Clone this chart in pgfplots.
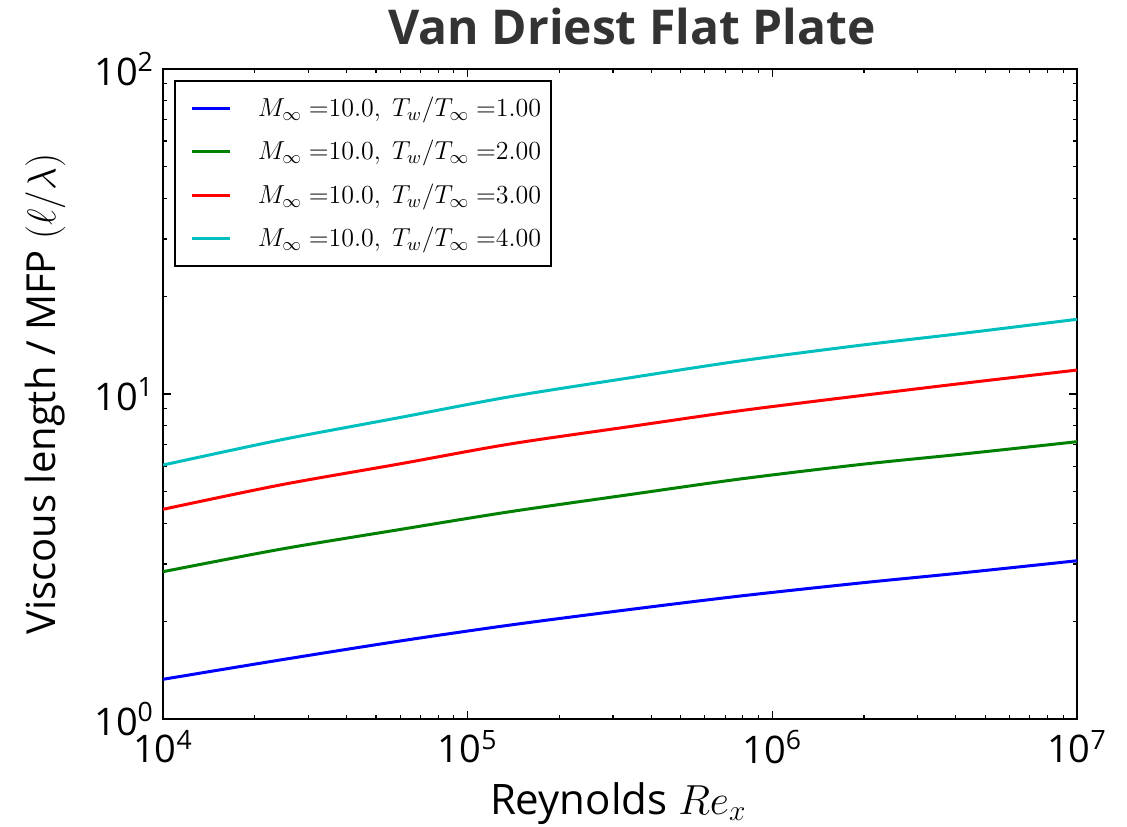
\RequirePackage{fix-cm}
\documentclass[border=0pt]{standalone}
\usepackage{pgfplots}
\pgfplotsset{compat=1.18}
\usepackage{fontspec}
\setmainfont{Open Sans}
\setsansfont{Open Sans}
\definecolor{mplgreen}{rgb}{0,0.5,0}
\definecolor{mplcyan}{rgb}{0,0.75,0.75}
\begin{document}
\begin{tikzpicture}
\path[use as bounding box] (0pt,0pt) rectangle (563.5pt,413pt);
\begin{axis}[
  at={(81.5pt,53.5pt)}, anchor=south west,
  width=457pt, height=325pt, scale only axis,
  xmode=log, ymode=log,
  xmin=1e4, xmax=1e7, ymin=1, ymax=100,
  xtick={1e4,1e5,1e6,1e7},
  xticklabels={10\textsuperscript{4},10\textsuperscript{5},10\textsuperscript{6},10\textsuperscript{7}},
  ytick={1,10,100},
  yticklabels={10\textsuperscript{0},10\textsuperscript{1},10\textsuperscript{2}},
  ticklabel style={font=\fontsize{19}{22}\selectfont},
  xticklabel style={yshift=-2pt},
  yticklabel style={xshift=-1pt},
  major tick length=4pt, minor tick length=2pt,
  tick style={black, line width=0.6pt},
  axis line style={line width=0.8pt},
  every axis y label/.style={at={(axis description cs:-0.129,0.5)}, anchor=center, rotate=90},
  every axis x label/.style={at={(axis description cs:0.498,-0.13)}, anchor=center},
  ylabel={\fontsize{20}{24}\selectfont Viscous length / MFP $(\ell/\lambda)$},
  xlabel={\fontsize{21}{25}\selectfont Reynolds $Re_x$},
  legend style={at={(axis description cs:0.012,0.983)}, anchor=north west,
    draw=black, line width=0.8pt, font=\fontsize{13}{16}\selectfont,
    row sep=6.5pt, column sep=13pt, inner xsep=5pt, inner ysep=6pt,
    nodes={inner xsep=0pt}},
  legend cell align=left,
  legend image code/.code={\path (0pt,0pt); \draw[#1] (3pt,0pt) -- (22pt,0pt);},
  every axis plot/.append style={line width=1.5pt},
]
\addplot[blue, smooth] coordinates {
(1e4,1.325) (2.421e4,1.519) (5.998e4,1.738) (1.377e5,1.946) (3.412e5,2.173)
(7.834e5,2.390) (1.941e6,2.621) (4.236e6,2.819) (1e7,3.069)};
\addlegendentry{$M_{\infty}\ {=}10.0,\ T_w/T_{\infty}\ {=}1.00$}
\addplot[mplgreen, smooth] coordinates {
(1e4,2.840) (2.421e4,3.328) (5.998e4,3.830) (1.377e5,4.344) (3.412e5,4.906)
(7.834e5,5.476) (1.941e6,6.068) (4.236e6,6.539) (1e7,7.133)};
\addlegendentry{$M_{\infty}\ {=}10.0,\ T_w/T_{\infty}\ {=}2.00$}
\addplot[red, smooth] coordinates {
(1e4,4.418) (2.421e4,5.248) (5.998e4,6.098) (1.377e5,7.018) (3.412e5,7.943)
(7.834e5,8.883) (1.941e6,9.88) (4.236e6,10.79) (1e7,11.85)};
\addlegendentry{$M_{\infty}\ {=}10.0,\ T_w/T_{\infty}\ {=}3.00$}
\addplot[mplcyan, smooth] coordinates {
(1e4,6.046) (2.421e4,7.219) (5.998e4,8.468) (1.377e5,9.81) (3.412e5,11.22)
(7.834e5,12.64) (1.941e6,14.12) (4.236e6,15.38) (1e7,16.98)};
\addlegendentry{$M_{\infty}\ {=}10.0,\ T_w/T_{\infty}\ {=}4.00$}
\end{axis}
\node[font=\fontsize{24}{29}\selectfont\bfseries, text=black!80] at (316pt,399.5pt) {Van Driest Flat Plate};
\end{tikzpicture}
\end{document}
